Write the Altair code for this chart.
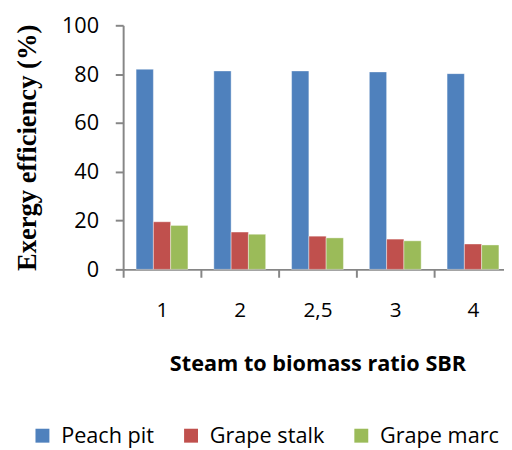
import altair as alt
import pandas as pd

categories = ["1", "2", "2,5", "3", "4"]
series = ["Peach pit", "Grape stalk", "Grape marc"]
peach_pit = [82.0, 81.3, 81.3, 80.9, 80.2]
grape_stalk = [19.5, 15.3, 13.6, 12.4, 10.4]
grape_marc = [18.0, 14.4, 12.9, 11.7, 10.0]
colors = ["#4F81BD", "#C0504D", "#9BBB59"]

rows = []
for name, vals in zip(series, [peach_pit, grape_stalk, grape_marc]):
    for c, v in zip(categories, vals):
        rows.append({"SBR": c, "Series": name, "Value": v})
df = pd.DataFrame(rows)

font = "Open Sans"

chart = alt.Chart(df).mark_bar(stroke="#ffffff", strokeWidth=0.8, strokeOpacity=0.5).encode(
    x=alt.X("SBR:N", sort=categories,
            scale=alt.Scale(paddingInner=0, paddingOuter=0, range=[0, 395]),
            axis=alt.Axis(title="Steam to biomass ratio SBR", labelAngle=0,
                          tickBand="extent", tickSize=8, tickWidth=2, tickColor="#868686",
                          domainColor="#868686", domainWidth=2,
                          labelFont=font, labelFontSize=21, labelColor="#000000",
                          labelPadding=23, titleFont=font, titleFontSize=22,
                          titleFontWeight="bold", titleColor="#000000", titlePadding=34)),
    xOffset=alt.XOffset("Series:N", sort=series,
                        scale=alt.Scale(paddingInner=0, paddingOuter=0.75)),
    y=alt.Y("Value:Q", scale=alt.Scale(domain=[0, 100]),
            axis=alt.Axis(title="Exergy efficiency (%)", values=[0, 20, 40, 60, 80, 100],
                          grid=False, tickSize=8, tickWidth=2, tickColor="#868686",
                          domainColor="#868686", domainWidth=2,
                          labelFont=font, labelFontSize=22, labelColor="#000000",
                          labelPadding=17, titleFont="Liberation Serif", titleFontSize=27,
                          titleFontWeight="bold", titleColor="#000000", titlePadding=20)),
    color=alt.Color("Series:N", sort=series,
                    scale=alt.Scale(domain=series, range=colors),
                    legend=alt.Legend(title=None, orient="none", direction="horizontal",
                                      legendX=-93, legendY=406, symbolType="square",
                                      symbolSize=200, symbolStrokeWidth=0,
                                      labelFont=font, labelFontSize=22, labelColor="#000000",
                                      columnPadding=26, symbolOffset=0, labelOffset=8)),
).properties(width=387, height=248,
             autosize=alt.AutoSizeParams(type="none"),
             padding={"left": 117, "top": 14, "right": 0, "bottom": 183}).configure_view(stroke=None)

chart.save("out.html", embed_options={"renderer": "svg", "actions": False})
